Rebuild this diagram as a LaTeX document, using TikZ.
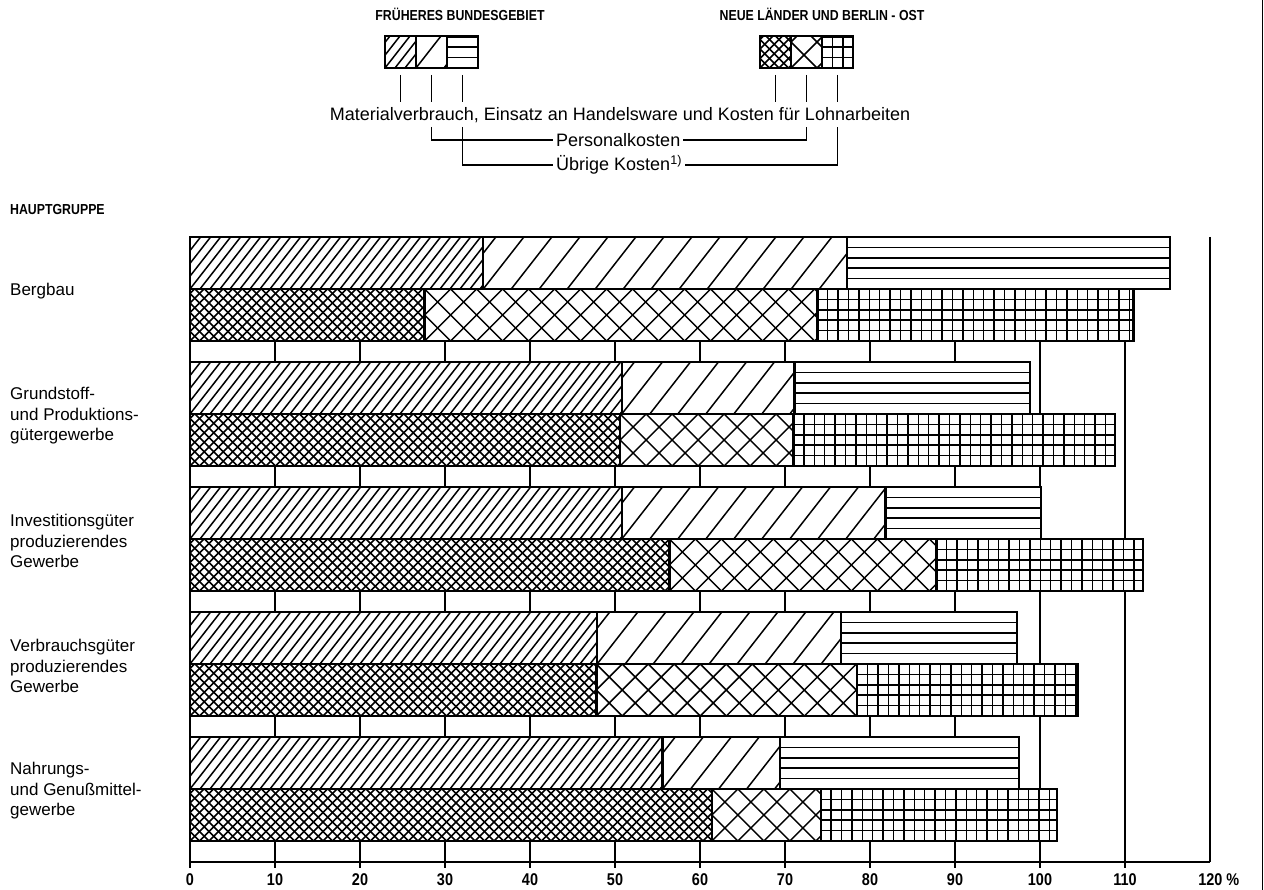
\documentclass[tikz,border=0pt]{standalone}
\usepackage{fontspec}
\setmainfont{Liberation Sans}
\newfontfamily\headfont[FakeStretch=0.85]{Liberation Sans}
\usetikzlibrary{positioning}

\begin{document}
\begin{tikzpicture}[
    x=1pt, y=-1pt,
    hatch/.style={line width=1.5pt},
    bar/.style={draw=black, line width=2.4pt, fill=white},
    fbgA/.style={bar, path picture={
        \foreach \k in {-6,...,100}
          \draw[hatch] ([xshift=\k*10pt]path picture bounding box.south west) -- ++(52:70pt);}},
    fbgB/.style={bar, path picture={
        \foreach \k in {-3,...,36}
          \draw[hatch] ([xshift=\k*28pt]path picture bounding box.south west) -- ++(52:70pt);}},
    fbgC/.style={bar, path picture={
        \foreach \j in {1,...,4}
          \draw[hatch] ([yshift=\j*10.4pt]path picture bounding box.south west) -- ++(0:1000pt);}},
    nlA/.style={bar, path picture={
        \foreach \k in {-7,...,112}{
          \draw[hatch] ([xshift=\k*9.5pt]path picture bounding box.south west) -- ++(45:80pt);
          \draw[hatch] ([xshift=\k*9.5pt]path picture bounding box.south west) -- ++(135:80pt);}}},
    nlB/.style={bar, path picture={
        \foreach \k in {-3,...,42}{
          \draw[hatch] ([xshift=\k*26pt]path picture bounding box.south west) -- ++(45:80pt);
          \draw[hatch] ([xshift=\k*26pt]path picture bounding box.south west) -- ++(135:80pt);}}},
    nlC/.style={bar, path picture={
        \foreach \k in {1,...,100}
          \draw[hatch] ([xshift=\k*10.4pt]path picture bounding box.south west) -- ++(90:60pt);
        \foreach \j in {1,...,4}
          \draw[hatch] ([yshift=\j*10.4pt]path picture bounding box.south west) -- ++(0:1000pt);}},
    legbox/.style={minimum width=31pt, minimum height=32pt, inner sep=0pt, outer sep=0pt},
    leg/.style={line width=1.3pt},
    grid/.style={line width=1.4pt},
    head/.style={inner sep=0pt, font={\headfont\bfseries\fontsize{14.5}{16}\selectfont}},
    legtext/.style={inner sep=3pt, font={\fontsize{18}{21}\selectfont}},
    cat/.style={anchor=west, align=left, inner sep=0pt, font={\fontsize{17}{20.5}\selectfont}},
    tick/.style={inner sep=0pt, font={\headfont\bfseries\fontsize{17}{19}\selectfont}}
  ]
    \useasboundingbox (0,0) rectangle (1264,890);

    % legend
    \node[head] (fbgTitle) at (460,14) {FRÜHERES BUNDESGEBIET};
    \node[head] (nlTitle) at (822,14) {NEUE LÄNDER UND BERLIN - OST};

    \node[fbgA, legbox] (legFa) at (400.5,52) {};
    \node[fbgB, legbox, right=0pt of legFa] (legFb) {};
    \node[fbgC, legbox, right=0pt of legFb] (legFc) {};
    \node[nlA, legbox] (legNa) at (775.5,52) {};
    \node[nlB, legbox, right=0pt of legNa] (legNb) {};
    \node[nlC, legbox, right=0pt of legNb] (legNc) {};

    \node[legtext] (mat) at (620,115) {Materialverbrauch, Einsatz an Handelsware und Kosten für Lohnarbeiten};
    \node[legtext, anchor=west] (pers) at (553,140) {Personalkosten};
    \node[legtext, anchor=west] (rest) at (553,165) {Übrige Kosten\textsuperscript{1)}};
    \coordinate (drop) at (0,127);

    \draw[leg] ([yshift=-7pt]legFa.south) -- ++(0,27);
    \draw[leg] ([yshift=-7pt]legFb.south) -- ++(0,27);
    \draw[leg] ([yshift=-7pt]legFc.south) -- ++(0,27);
    \draw[leg] ([yshift=-7pt]legNa.south) -- ++(0,27);
    \draw[leg] ([yshift=-7pt]legNb.south) -- ++(0,27);
    \draw[leg] ([yshift=-7pt]legNc.south) -- ++(0,27);
    \draw[leg] (legFb |- drop) |- (pers.west);
    \draw[leg] (pers.east) -| (legNb |- drop);
    \draw[leg] (legFc |- drop) |- (rest.west);
    \draw[leg] (rest.east) -| (legNc |- drop);

    % groups
    \node[head, anchor=west] (hg) at (10,210) {HAUPTGRUPPE};
    \node[cat] (berg) at (10,291) {Bergbau};
    \node[cat] (grund) at (10,416) {Grundstoff-\\und Produktions-\\gütergewerbe};
    \node[cat] (invest) at (10,541) {Investitionsgüter\\produzierendes\\Gewerbe};
    \node[cat] (verbr) at (10,666) {Verbrauchsgüter\\produzierendes\\Gewerbe};
    \node[cat] (nahr) at (10,791) {Nahrungs-\\und Genußmittel-\\gewerbe};

    % bars in percent
    \begin{scope}[shift={(190,0)}, x=8.5pt]
      \foreach \v in {10,20,...,110}
        \draw[grid] (\v,237) -- (\v,868);
      \draw[grid] (120,237) -- (120,862);
      \draw[line width=2pt] (0,237) -- (0,868);
      \draw[line width=2pt] (0,862) -- (120,862);

      \foreach \t/\a/\b/\c/\d/\e/\f in {237/34.5/77.3/115.3/27.6/73.8/111,
          362/50.8/71.1/98.8/50.6/71.0/108.8,
          487/50.8/81.8/100.1/56.4/87.8/112.1,
          612/47.9/76.6/97.3/47.8/78.5/104.4,
          737/55.6/69.4/97.5/61.4/74.2/102}{
        \draw[fbgA] (0,\t) rectangle (\a,\t+52);
        \draw[fbgB] (\a,\t) rectangle (\b,\t+52);
        \draw[fbgC] (\b,\t) rectangle (\c,\t+52);
        \draw[nlA] (0,\t+52) rectangle (\d,\t+104);
        \draw[nlB] (\d,\t+52) rectangle (\e,\t+104);
        \draw[nlC] (\e,\t+52) rectangle (\f,\t+104);
      }

      \foreach \v in {0,10,...,110}
        \node[tick] (t\v) at (\v,880) {\v};
      \node[tick, anchor=west] (t120) at (118.6,880) {120 \%};
    \end{scope}

    \draw[line width=1.5pt] (1262.5,0) -- (1262.5,890);
  \end{tikzpicture}
\end{document}
